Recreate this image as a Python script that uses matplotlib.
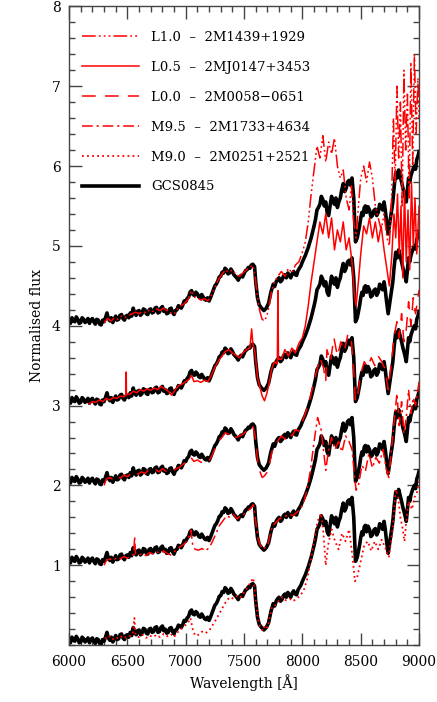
import matplotlib
matplotlib.use("Agg")
import matplotlib.pyplot as plt
from matplotlib.ticker import MultipleLocator, FixedLocator

# ---------------- data ----------------
gcs_wave = [6000, 6012, 6025, 6037, 6050, 6062, 6075, 6087,
            6100, 6112, 6125, 6137, 6150, 6162, 6175, 6187,
            6200, 6212, 6225, 6237, 6250, 6262, 6275, 6287,
            6300, 6312, 6325, 6337, 6350, 6362, 6375, 6387,
            6400, 6412, 6425, 6437, 6450, 6462, 6475, 6487,
            6500, 6512, 6525, 6537, 6550, 6562, 6575, 6587,
            6600, 6612, 6625, 6637, 6650, 6662, 6675, 6687,
            6700, 6712, 6725, 6737, 6750, 6762, 6775, 6787,
            6800, 6812, 6825, 6837, 6850, 6862, 6875, 6887,
            6900, 6912, 6925, 6937, 6950, 6962, 6975, 6987,
            7000, 7012, 7025, 7037, 7050, 7062, 7075, 7087,
            7100, 7112, 7125, 7137, 7150, 7162, 7175, 7187,
            7200, 7212, 7225, 7237, 7250, 7262, 7275, 7287,
            7300, 7312, 7325, 7337, 7350, 7362, 7375, 7387,
            7400, 7412, 7425, 7437, 7450, 7462, 7475, 7487,
            7500, 7512, 7525, 7537, 7550, 7562, 7575, 7590,
            7600, 7615, 7630, 7650, 7670, 7690, 7710, 7730,
            7750, 7762, 7775, 7787, 7800, 7812, 7825, 7837,
            7850, 7862, 7875, 7887, 7900, 7912, 7925, 7937,
            7950, 7962, 7975, 7987, 8000, 8025, 8050, 8075,
            8100, 8112, 8125, 8137, 8150, 8162, 8175, 8187,
            8200, 8212, 8225, 8237, 8250, 8262, 8275, 8287,
            8300, 8312, 8325, 8337, 8350, 8362, 8375, 8387,
            8400, 8412, 8425, 8440, 8455, 8470, 8490, 8500,
            8510, 8520, 8530, 8540, 8550, 8562, 8575, 8587,
            8600, 8612, 8625, 8637, 8650, 8662, 8675, 8687,
            8700, 8710, 8720, 8735, 8750, 8762, 8775, 8787,
            8800, 8812, 8825, 8837, 8850, 8862, 8875, 8890,
            8900, 8910, 8920, 8930, 8945, 8960, 8970, 8980,
            8990, 9000]
gcs_flux = [0.07, 0.03, 0.10, 0.06, 0.05, 0.11, 0.08, 0.03,
            0.04, 0.10, 0.08, 0.04, 0.06, 0.09, 0.03, 0.07,
            0.09, 0.05, 0.02, 0.08, 0.07, 0.02, 0.01, 0.07,
            0.05, 0.10, 0.16, 0.09, 0.06, 0.10, 0.04, 0.08,
            0.12, 0.07, 0.08, 0.13, 0.14, 0.09, 0.07, 0.12,
            0.13, 0.10, 0.16, 0.12, 0.22, 0.16, 0.13, 0.18,
            0.19, 0.13, 0.15, 0.21, 0.20, 0.15, 0.14, 0.20,
            0.21, 0.16, 0.17, 0.22, 0.23, 0.16, 0.17, 0.22,
            0.24, 0.18, 0.20, 0.15, 0.16, 0.21, 0.22, 0.17,
            0.14, 0.19, 0.20, 0.25, 0.24, 0.22, 0.26, 0.31,
            0.30, 0.34, 0.36, 0.42, 0.44, 0.39, 0.38, 0.42,
            0.40, 0.36, 0.35, 0.39, 0.36, 0.33, 0.32, 0.35,
            0.31, 0.35, 0.40, 0.45, 0.50, 0.52, 0.56, 0.61,
            0.62, 0.67, 0.66, 0.72, 0.70, 0.65, 0.66, 0.71,
            0.68, 0.64, 0.62, 0.60, 0.57, 0.61, 0.63, 0.61,
            0.65, 0.69, 0.70, 0.73, 0.72, 0.76, 0.77, 0.74,
            0.55, 0.35, 0.26, 0.22, 0.19, 0.22, 0.28, 0.42,
            0.52, 0.49, 0.55, 0.58, 0.60, 0.55, 0.57, 0.62,
            0.64, 0.60, 0.66, 0.63, 0.60, 0.65, 0.68, 0.64,
            0.63, 0.69, 0.72, 0.75, 0.80, 0.88, 0.98, 1.10,
            1.25, 1.33, 1.45, 1.48, 1.52, 1.62, 1.58, 1.50,
            1.55, 1.42, 1.38, 1.50, 1.62, 1.56, 1.52, 1.60,
            1.48, 1.55, 1.60, 1.70, 1.78, 1.68, 1.72, 1.80,
            1.82, 1.76, 1.85, 1.60, 1.05, 1.10, 1.25, 1.35,
            1.42, 1.38, 1.48, 1.50, 1.42, 1.49, 1.45, 1.36,
            1.38, 1.44, 1.46, 1.38, 1.42, 1.52, 1.50, 1.45,
            1.55, 1.45, 1.32, 1.15, 1.30, 1.42, 1.55, 1.75,
            1.92, 1.85, 1.95, 1.88, 1.80, 1.72, 1.65, 1.55,
            1.70, 1.85, 1.80, 1.88, 1.95, 2.00, 1.96, 2.08,
            2.12, 2.18]
gcs_offsets = [0, 1, 2, 3, 4]

m90_wave = [6310, 6340, 6370, 6400, 6430, 6460, 6490, 6520, 6545, 6560, 6570, 6600, 6630, 6660, 6690, 6720,
            6750, 6780, 6810, 6840, 6870, 6900, 6930, 6960, 6990, 7020, 7040, 7060, 7080, 7110, 7140, 7170,
            7200, 7230, 7260, 7290, 7320, 7350, 7380, 7410, 7440, 7470, 7500, 7530, 7560, 7580, 7600, 7620,
            7640, 7660, 7680, 7700, 7720, 7740, 7770, 7800, 7830, 7860, 7890, 7920, 7950, 7980, 8010, 8040,
            8070, 8100, 8130, 8160, 8180, 8200, 8220, 8250, 8280, 8310, 8340, 8370, 8400, 8430, 8450, 8470,
            8500, 8530, 8560, 8590, 8620, 8650, 8680, 8710, 8740, 8770, 8800, 8820, 8840, 8860, 8875, 8890,
            8910, 8940, 8960, 8980, 9000]
m90_flux = [0.08, 0.12, 0.07, 0.10, 0.08, 0.12, 0.09, 0.11, 0.14, 0.34, 0.12, 0.10, 0.13, 0.09, 0.12, 0.10,
            0.13, 0.10, 0.14, 0.11, 0.14, 0.10, 0.16, 0.20, 0.24, 0.28, 0.34, 0.20, 0.12, 0.13, 0.17, 0.15,
            0.18, 0.25, 0.32, 0.40, 0.48, 0.56, 0.60, 0.58, 0.62, 0.60, 0.66, 0.72, 0.80, 0.84, 0.55, 0.32,
            0.22, 0.18, 0.25, 0.22, 0.35, 0.48, 0.50, 0.56, 0.60, 0.56, 0.58, 0.55, 0.58, 0.62, 0.68, 0.82,
            1.05, 1.30, 1.55, 1.65, 1.40, 1.00, 1.25, 1.45, 1.30, 1.20, 1.40, 1.30, 1.45, 1.10, 0.80, 0.85,
            1.05, 1.25, 1.30, 1.18, 1.30, 1.20, 1.32, 1.22, 1.10, 1.40, 1.95, 1.85, 1.60, 1.45, 1.30, 1.55,
            1.80, 1.70, 1.85, 1.90, 2.05]

m95_wave = [6300, 6320, 6350, 6380, 6410, 6440, 6470, 6500, 6530, 6555, 6562, 6570, 6600, 6630, 6660, 6690,
            6720, 6750, 6780, 6810, 6840, 6870, 6900, 6930, 6960, 6990, 7020, 7045, 7060, 7080, 7110, 7140,
            7170, 7200, 7230, 7260, 7290, 7320, 7350, 7380, 7410, 7440, 7470, 7500, 7530, 7560, 7580, 7600,
            7620, 7640, 7660, 7680, 7700, 7720, 7745, 7770, 7800, 7830, 7860, 7890, 7920, 7950, 7980, 8010,
            8040, 8070, 8100, 8130, 8160, 8180, 8200, 8220, 8250, 8280, 8310, 8340, 8370, 8400, 8425, 8445,
            8460, 8480, 8510, 8540, 8570, 8600, 8630, 8660, 8690, 8720, 8740, 8760, 8790, 8810, 8830, 8850,
            8870, 8890, 8910, 8930, 8950, 8970, 9000]
m95_flux = [0.00, 0.06, 0.08, 0.06, 0.10, 0.08, 0.11, 0.09, 0.12, 0.14, 0.36, 0.14, 0.13, 0.15, 0.12, 0.16,
            0.14, 0.17, 0.15, 0.18, 0.15, 0.13, 0.17, 0.21, 0.24, 0.27, 0.32, 0.44, 0.25, 0.20, 0.19, 0.21,
            0.18, 0.22, 0.30, 0.40, 0.50, 0.56, 0.62, 0.60, 0.64, 0.58, 0.62, 0.64, 0.68, 0.72, 0.76, 0.55,
            0.33, 0.25, 0.20, 0.22, 0.24, 0.36, 0.50, 0.53, 0.58, 0.60, 0.62, 0.64, 0.62, 0.66, 0.70, 0.78,
            0.95, 1.20, 1.55, 1.85, 1.70, 1.45, 1.19, 1.40, 1.60, 1.45, 1.55, 1.42, 1.62, 1.55, 1.45, 1.15,
            0.94, 1.00, 1.25, 1.18, 1.40, 1.22, 1.35, 1.28, 1.45, 1.20, 1.10, 1.40, 1.85, 2.15, 1.75, 2.05,
            1.65, 1.85, 2.20, 1.90, 2.10, 2.00, 2.30]

l00_wave = [6300, 6320, 6350, 6380, 6410, 6440, 6470, 6500, 6530, 6560, 6590, 6620, 6650, 6680, 6710, 6740,
            6770, 6800, 6830, 6860, 6890, 6920, 6950, 6980, 7010, 7040, 7070, 7100, 7130, 7160, 7190, 7220,
            7250, 7280, 7310, 7340, 7370, 7400, 7430, 7460, 7490, 7520, 7550, 7575, 7595, 7615, 7635, 7655,
            7675, 7695, 7715, 7735, 7760, 7790, 7820, 7850, 7880, 7910, 7940, 7970, 8000, 8030, 8060, 8090,
            8120, 8150, 8180, 8200, 8210, 8240, 8270, 8300, 8330, 8360, 8390, 8420, 8440, 8455, 8475, 8500,
            8530, 8560, 8590, 8620, 8650, 8680, 8710, 8735, 8760, 8790, 8810, 8830, 8850, 8870, 8890, 8910,
            8930, 8950, 8970, 9000]
l00_flux = [0.00, 0.08, 0.10, 0.07, 0.12, 0.09, 0.13, 0.11, 0.15, 0.18, 0.14, 0.17, 0.15, 0.19, 0.16, 0.20,
            0.17, 0.21, 0.18, 0.15, 0.18, 0.21, 0.23, 0.27, 0.30, 0.36, 0.30, 0.32, 0.29, 0.30, 0.28, 0.36,
            0.46, 0.55, 0.60, 0.66, 0.64, 0.67, 0.60, 0.62, 0.64, 0.68, 0.71, 0.75, 0.62, 0.32, 0.18, 0.10,
            0.12, 0.16, 0.25, 0.40, 0.50, 0.56, 0.62, 0.58, 0.66, 0.62, 0.70, 0.68, 0.80, 0.92, 1.05, 1.25,
            1.42, 1.60, 1.48, 1.30, 1.70, 1.55, 1.85, 1.62, 1.80, 1.68, 1.90, 1.80, 1.45, 1.05, 1.15, 1.40,
            1.55, 1.48, 1.60, 1.50, 1.62, 1.55, 1.45, 1.20, 1.50, 1.90, 2.05, 1.85, 2.15, 1.80, 1.95, 2.30,
            2.00, 2.35, 2.15, 2.45]

l05_wave = [6170, 6200, 6230, 6260, 6290, 6320, 6350, 6380, 6410, 6440, 6470, 6488, 6490, 6492, 6520, 6550,
            6580, 6610, 6640, 6670, 6700, 6730, 6760, 6790, 6820, 6850, 6880, 6910, 6940, 6970, 7000, 7030,
            7050, 7070, 7100, 7130, 7160, 7190, 7220, 7250, 7280, 7310, 7340, 7370, 7400, 7430, 7460, 7490,
            7520, 7550, 7565, 7575, 7595, 7615, 7635, 7655, 7675, 7695, 7715, 7735, 7760, 7785, 7790, 7795,
            7820, 7850, 7880, 7910, 7940, 7970, 8000, 8025, 8050, 8075, 8100, 8125, 8150, 8175, 8200, 8225,
            8250, 8275, 8300, 8325, 8350, 8375, 8400, 8425, 8445, 8460, 8480, 8500, 8525, 8550, 8575, 8600,
            8625, 8650, 8675, 8700, 8725, 8745, 8765, 8785, 8800, 8815, 8830, 8845, 8860, 8875, 8890, 8905,
            8920, 8935, 8950, 8965, 8980, 9000]
l05_flux = [0.02, 0.05, 0.04, 0.07, 0.05, 0.09, 0.07, 0.10, 0.09, 0.12, 0.11, 0.13, 0.42, 0.14, 0.14, 0.18,
            0.16, 0.20, 0.18, 0.21, 0.19, 0.22, 0.20, 0.24, 0.21, 0.18, 0.13, 0.20, 0.25, 0.27, 0.30, 0.33,
            0.38, 0.30, 0.31, 0.29, 0.32, 0.30, 0.38, 0.48, 0.56, 0.62, 0.68, 0.70, 0.66, 0.63, 0.60, 0.66,
            0.70, 0.72, 0.96, 0.78, 0.65, 0.35, 0.24, 0.12, 0.06, 0.15, 0.28, 0.45, 0.55, 0.52, 1.44, 0.58,
            0.58, 0.70, 0.62, 0.72, 0.66, 0.78, 0.85, 1.00, 1.25, 1.55, 1.80, 2.05, 2.30, 2.15, 2.40, 2.10,
            2.35, 1.95, 2.20, 2.05, 2.30, 1.95, 2.10, 1.80, 1.40, 1.25, 1.55, 1.90, 2.25, 2.15, 2.35, 2.10,
            2.30, 2.05, 2.25, 1.95, 1.70, 1.50, 1.85, 2.40, 2.10, 2.65, 1.90, 2.50, 1.60, 2.70, 1.80, 2.45,
            1.70, 2.80, 2.00, 2.60, 1.90, 2.50]

l10_wave = [6300, 6330, 6360, 6390, 6420, 6450, 6480, 6510, 6540, 6570, 6600, 6630, 6660, 6690, 6720, 6750,
            6780, 6810, 6840, 6870, 6900, 6930, 6960, 6990, 7020, 7050, 7070, 7100, 7130, 7160, 7190, 7220,
            7250, 7280, 7310, 7340, 7370, 7400, 7430, 7460, 7490, 7520, 7550, 7575, 7595, 7615, 7635, 7655,
            7675, 7695, 7715, 7735, 7760, 7790, 7820, 7850, 7880, 7910, 7940, 7970, 8000, 8025, 8050, 8075,
            8100, 8125, 8150, 8175, 8200, 8225, 8250, 8275, 8300, 8325, 8350, 8375, 8400, 8420, 8440, 8460,
            8480, 8500, 8525, 8550, 8575, 8600, 8625, 8650, 8675, 8700, 8725, 8745, 8765, 8780, 8795, 8810,
            8825, 8840, 8855, 8870, 8885, 8900, 8915, 8930, 8945, 8960, 8975, 8990, 9000]
l10_flux = [0.04, 0.09, 0.06, 0.10, 0.08, 0.12, 0.10, 0.13, 0.15, 0.17, 0.15, 0.18, 0.16, 0.20, 0.18, 0.21,
            0.19, 0.22, 0.19, 0.16, 0.14, 0.21, 0.25, 0.28, 0.33, 0.44, 0.36, 0.35, 0.32, 0.34, 0.31, 0.38,
            0.48, 0.58, 0.64, 0.70, 0.67, 0.70, 0.64, 0.62, 0.66, 0.70, 0.73, 0.76, 0.62, 0.35, 0.18, 0.08,
            0.06, 0.12, 0.25, 0.42, 0.55, 0.62, 0.68, 0.62, 0.72, 0.66, 0.76, 0.80, 0.92, 1.05, 1.30, 1.65,
            1.95, 2.25, 2.10, 2.38, 2.05, 2.30, 2.15, 2.35, 2.00, 1.85, 1.95, 1.60, 1.45, 1.75, 1.30, 1.10,
            1.50, 1.85, 2.00, 1.80, 2.05, 1.85, 1.50, 1.35, 1.20, 1.40, 1.10, 1.00, 1.60, 2.60, 1.80, 3.00,
            2.10, 2.80, 1.50, 3.20, 2.20, 2.90, 1.60, 3.30, 2.00, 3.40, 2.40, 3.10, 2.60]

red_waves = [m90_wave, m95_wave, l00_wave, l05_wave, l10_wave]
red_fluxes = [m90_flux, m95_flux, l00_flux, l05_flux, l10_flux]
red_offsets = [0, 1, 2, 3, 4]
red_labels = ["M9.0  \u2013  2M0251+2521", "M9.5  \u2013  2M1733+4634", "L0.0  \u2013  2M0058\u22120651",
              "L0.5  \u2013  2MJ0147+3453", "L1.0  \u2013  2M1439+1929"]
red_styles = [(0, (1.0, 1.8)), (0, (7, 2.5, 1.5, 2.5)), (0, (9, 6)), "-",
              (0, (9, 2, 1.2, 2, 1.2, 2, 1.2, 2))]
red_widths = [1.3, 1.1, 1.1, 1.1, 1.1]
gcs_label = "GCS0845"

# ---------------- figure ----------------
plt.rcParams['font.family'] = ['DejaVu Serif']
fig = plt.figure(figsize=(4.37, 7.02), dpi=100)
ax = fig.add_axes([0.158, 0.081, 0.801, 0.910])

handles = {}
for off in gcs_offsets:
    h, = ax.plot(gcs_wave, [f + off for f in gcs_flux], color='black', lw=2.6, zorder=2,
                 solid_joinstyle='round')
handles[gcs_label] = h
for w, fl, off, lab, ls, lw in zip(red_waves, red_fluxes, red_offsets, red_labels, red_styles, red_widths):
    h, = ax.plot(w, [f + off for f in fl], color='red', lw=lw, ls=ls, zorder=3)
    handles[lab] = h

order = [red_labels[4], red_labels[3], red_labels[2], red_labels[1], red_labels[0], gcs_label]
leg = ax.legend([handles[k] for k in order], order, loc='upper left', frameon=False,
                fontsize=9.5, handlelength=4.3, handletextpad=0.9, labelspacing=1.28,
                borderaxespad=0.6, bbox_to_anchor=(0.0, 0.982))

ax.set_xlim(6000, 9000)
ax.set_ylim(0, 8)
ax.xaxis.set_major_locator(FixedLocator([6000, 6500, 7000, 7500, 8000, 8500, 9000]))
ax.xaxis.set_minor_locator(MultipleLocator(100))
ax.yaxis.set_major_locator(FixedLocator([1, 2, 3, 4, 5, 6, 7, 8]))
ax.yaxis.set_minor_locator(MultipleLocator(0.2))
ax.tick_params(which='both', direction='in', top=True, right=True, colors='#444444',
               labelcolor='black', labelsize=10)
ax.tick_params(which='major', length=9, width=1.0)
ax.tick_params(which='minor', length=4.5, width=1.0)
ax.tick_params(axis='x', pad=7)
ax.tick_params(axis='y', pad=6)
for s in ax.spines.values():
    s.set_color('#444444')
    s.set_linewidth(1.0)

ax.set_xlabel("Wavelength [\u00c5]", fontsize=10, labelpad=4)
ax.set_ylabel("Normalised flux", fontsize=10, labelpad=6)

fig.savefig("out.png", dpi=100)
